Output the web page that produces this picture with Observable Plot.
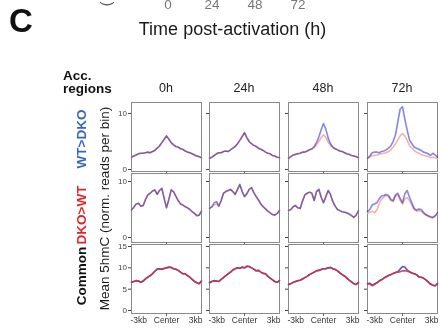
<!DOCTYPE html>
<html><head><meta charset="utf-8">
<script src="https://cdn.jsdelivr.net/npm/d3@7"></script>
<script src="https://cdn.jsdelivr.net/npm/@observablehq/plot@0.6"></script>
<style>
body{margin:0;background:#fff;}
#wrap{position:relative;width:440px;height:334px;overflow:hidden;font-family:"Liberation Sans",Arial,sans-serif;background:#fff;}
#wrap svg{position:absolute;overflow:visible;}
</style></head><body><div id="wrap"></div>
<script>
// ---- data ----
const bins = [-3.0,-2.8,-2.6,-2.4,-2.2,-2.0,-1.8,-1.6,-1.4,-1.2,-1.0,-0.8,-0.6,-0.4,-0.2,0.0,0.2,0.4,0.6,0.8,1.0,1.2,1.4,1.6,1.8,2.0,2.2,2.4,2.6,2.8,3.0];
const times = ["0h","24h","48h","72h"];
const regions = ["WT>DKO","DKO>WT","Common"];
const yTicksByRegion = [[0,10],[0,10],[0,5,10,15]];
const xTickValues = [-3,0,3];
const xTickLabels = ["-3kb","Center","3kb"];
const topTickLabels = ["0","24","48","72"];

// WT>DKO accessible regions
const r1_0h_WT  = [2.2,2.4,2.6,2.8,2.9,2.9,3.0,3.1,3.0,3.2,3.4,3.8,4.2,4.8,5.4,6.0,5.4,4.8,4.4,4.1,4.0,3.7,3.6,3.3,3.1,3.0,2.8,2.6,2.4,2.3,2.1];
const r1_0h_DKO = [2.2,2.4,2.6,2.8,2.9,2.9,3.0,3.1,3.0,3.2,3.4,3.8,4.2,4.8,5.4,6.0,5.4,4.8,4.4,4.1,4.0,3.7,3.6,3.3,3.1,3.0,2.8,2.6,2.4,2.3,2.1];
const r1_24h_WT  = [2.0,2.2,2.5,2.8,3.0,3.0,3.2,3.3,3.2,3.5,3.8,4.1,4.6,5.2,5.9,6.6,5.7,5.0,4.6,4.3,4.1,3.8,3.6,3.4,3.1,2.9,2.8,2.5,2.4,2.2,2.1];
const r1_24h_DKO = [2.0,2.2,2.5,2.8,3.0,3.0,3.2,3.3,3.2,3.5,3.8,4.1,4.6,5.2,5.8,6.5,5.7,5.0,4.6,4.3,4.1,3.8,3.6,3.4,3.1,2.9,2.8,2.5,2.4,2.2,2.1];
const r1_48h_WT  = [2.0,2.3,2.6,2.7,2.8,2.9,3.1,3.1,3.3,3.5,3.7,4.1,4.8,5.8,7.1,8.2,7.2,5.6,4.6,4.0,3.7,3.5,3.3,3.2,3.0,2.8,2.7,2.5,2.4,2.3,2.1];
const r1_48h_DKO = [2.0,2.3,2.6,2.7,2.8,2.9,3.1,3.1,3.3,3.5,3.6,3.9,4.4,5.0,5.7,6.2,5.7,4.9,4.3,3.9,3.7,3.5,3.3,3.2,3.0,2.8,2.7,2.5,2.4,2.3,2.1];
const r1_72h_WT  = [2.0,2.4,3.0,3.1,3.1,3.0,3.2,3.3,3.5,3.8,4.2,5.0,6.2,8.5,10.8,11.2,9.0,7.0,5.3,4.6,4.0,3.8,3.6,3.4,3.1,3.0,2.8,2.5,2.9,2.6,2.2];
const r1_72h_DKO = [2.0,2.2,2.5,2.5,2.6,2.7,2.8,2.9,3.0,3.2,3.5,4.0,4.6,5.3,6.0,6.4,6.0,5.2,4.3,3.8,3.4,3.1,2.9,2.7,2.5,2.4,2.3,2.1,2.2,2.1,1.9];

// DKO>WT accessible regions
const r2_0h_WT  = [4.9,5.4,6.0,6.1,5.6,5.7,6.8,7.6,7.9,8.3,8.5,7.7,8.4,8.8,7.0,5.3,6.8,8.5,8.2,7.4,6.6,6.0,5.8,5.5,5.3,5.0,4.6,4.3,3.9,4.0,4.7];
const r2_0h_DKO = [4.9,5.4,6.0,6.1,5.6,5.7,6.8,7.6,7.9,8.3,8.5,7.7,8.4,8.8,7.0,5.3,6.8,8.5,8.2,7.4,6.6,6.0,5.8,5.5,5.3,5.0,4.6,4.3,3.9,4.0,4.7];
const r2_24h_WT  = [5.2,5.5,6.2,6.4,5.6,6.6,7.9,8.2,8.4,8.6,8.2,7.7,8.6,9.5,8.2,7.3,7.8,8.6,8.9,8.0,7.3,6.7,6.0,5.5,5.1,4.7,4.4,4.1,4.0,4.3,4.8];
const r2_24h_DKO = [5.2,5.4,5.8,6.0,5.6,6.6,7.9,8.2,8.4,8.6,8.2,7.7,8.6,9.4,8.2,7.3,7.8,8.6,8.9,8.0,7.3,6.7,6.0,5.5,5.1,4.7,4.4,4.1,4.0,4.3,4.8];
const r2_48h_WT  = [4.8,5.0,5.5,5.7,5.3,5.2,6.5,7.6,7.9,8.1,7.9,6.6,8.2,8.6,7.2,6.2,7.3,8.4,7.7,6.4,5.6,5.0,4.8,4.6,4.5,4.4,4.2,3.9,3.6,4.0,4.8];
const r2_48h_DKO = [4.8,5.0,5.5,5.7,5.3,5.2,6.5,7.6,7.9,8.1,7.9,6.6,8.2,8.6,7.2,6.2,7.3,8.4,7.7,6.4,5.6,5.0,4.8,4.6,4.5,4.4,4.2,3.9,3.6,4.0,4.8];
const r2_72h_WT  = [4.6,5.0,5.8,6.0,6.2,6.9,7.4,7.5,7.7,7.5,6.8,6.6,7.6,7.9,7.0,6.2,7.8,8.4,7.2,6.2,5.2,4.9,5.1,5.0,4.5,4.1,3.9,3.7,3.6,3.9,4.4];
const r2_72h_DKO = [4.4,4.5,4.7,4.4,4.9,6.0,6.8,7.2,7.5,7.3,6.6,6.4,7.4,7.6,6.6,6.0,6.9,7.1,6.6,5.8,5.0,4.7,4.8,4.7,4.3,4.0,3.8,3.6,3.5,3.8,4.2];

// Common accessible regions
const r3_0h_WT  = [6.6,6.8,7.0,6.9,6.6,6.9,7.4,7.8,8.2,8.6,9.2,9.7,9.8,9.7,9.9,10.0,10.2,10.1,9.8,9.7,9.4,9.0,8.6,8.6,8.2,7.8,7.3,6.8,6.5,6.3,6.9];
const r3_0h_DKO = [6.6,6.8,7.0,6.9,6.6,6.9,7.4,7.8,8.2,8.6,9.2,9.7,9.8,9.6,9.8,10.0,10.1,10.1,9.8,9.7,9.4,9.0,8.6,8.6,8.2,7.8,7.3,6.8,6.5,6.3,6.9];
const r3_24h_WT  = [6.5,6.8,7.0,6.9,6.8,7.3,7.7,8.2,8.6,9.0,9.5,9.8,10.0,9.9,10.2,10.0,10.4,10.3,10.0,9.7,9.3,9.4,9.0,8.7,8.6,8.0,7.6,7.2,6.8,6.6,7.0];
const r3_24h_DKO = [6.5,6.8,7.0,6.9,6.8,7.3,7.7,8.2,8.6,9.0,9.5,9.8,10.0,9.9,10.1,10.0,10.3,10.3,10.0,9.7,9.3,9.4,9.0,8.7,8.6,8.0,7.6,7.2,6.8,6.6,7.0];
const r3_48h_WT  = [6.1,6.3,6.6,6.8,7.0,7.1,7.4,7.7,8.0,8.4,8.7,9.0,9.3,9.4,9.6,9.8,9.8,10.0,10.1,9.8,9.6,9.3,8.8,8.4,8.1,7.6,7.1,6.7,6.3,6.1,6.6];
const r3_48h_DKO = [6.1,6.3,6.6,6.8,7.0,7.1,7.4,7.7,8.0,8.4,8.7,9.0,9.3,9.4,9.6,9.8,9.8,10.0,10.1,9.8,9.6,9.3,8.8,8.4,8.1,7.6,7.1,6.7,6.3,6.1,6.6];
const r3_72h_WT  = [6.3,6.4,6.0,6.2,6.5,6.9,7.2,7.6,7.9,8.2,8.4,8.7,8.9,9.1,9.7,10.3,10.2,9.5,9.1,8.8,8.6,8.4,7.9,7.8,7.6,7.2,6.7,6.2,5.9,5.8,6.3];
const r3_72h_DKO = [6.2,6.2,5.8,6.1,6.5,6.9,7.2,7.6,7.9,8.2,8.4,8.7,8.9,9.0,9.1,9.3,9.3,9.2,9.0,8.8,8.6,8.4,7.9,7.8,7.6,7.2,6.7,6.2,5.9,5.8,6.3];

const profiles = [
  [[r1_0h_WT,r1_0h_DKO],[r1_24h_WT,r1_24h_DKO],[r1_48h_WT,r1_48h_DKO],[r1_72h_WT,r1_72h_DKO]],
  [[r2_0h_WT,r2_0h_DKO],[r2_24h_WT,r2_24h_DKO],[r2_48h_WT,r2_48h_DKO],[r2_72h_WT,r2_72h_DKO]],
  [[r3_0h_WT,r3_0h_DKO],[r3_24h_WT,r3_24h_DKO],[r3_48h_WT,r3_48h_DKO],[r3_72h_WT,r3_72h_DKO]]
];

// ---- layout / style ----
const yDomains = [[-0.36,11.96],[-0.89,11.43],[-0.70,15.47]];
const boxLeft = [131,209,288,367], boxTop = [102,173,244], boxW = 70, boxH = 69;
const ml = 24, mr = 2, mt = 2;
const font = "Liberation Sans, Arial, sans-serif";
const lineColors = [
  {wt:"#8686ec", dko:"#f6b2a8"},
  {wt:"#8686ec", dko:"#f6b2a8"},
  {wt:"#5858cc", dko:"#d02c40"}
];
const wrap = document.getElementById("wrap");

for (let r = 0; r < 3; r++) {
  for (let c = 0; c < 4; c++) {
    const mb = r === 2 ? 16 : 5;
    const [wtV, dkoV] = profiles[r][c];
    const wt = bins.map((x,i)=>({x, y: wtV[i]}));
    const dko = bins.map((x,i)=>({x, y: dkoV[i]}));
    const col = lineColors[r];
    const marks = [
      Plot.frame({stroke:"#8a8a8a", strokeWidth:1}),
      Plot.axisY({ticks: yTicksByRegion[r], tickSize: 3, tickPadding: 1.5, fontSize: 8, color:"#444",
                  tickFormat: c === 0 ? (d => String(d)) : (() => ""), label: null}),
      Plot.axisX({ticks: [0], tickSize: 3, tickFormat: () => "", label: null, color:"#666"})
    ];
    if (r === 2) {
      marks.push(Plot.text([{x: xTickValues[0], t: xTickLabels[0]}], {x:"x", text:"t", frameAnchor:"bottom", dy: 9, textAnchor:"start", dx:-1, fontSize: 8.5, fill:"#333"}));
      marks.push(Plot.text([{x: xTickValues[1], t: xTickLabels[1]}], {x:"x", text:"t", frameAnchor:"bottom", dy: 9, textAnchor:"middle", fontSize: 8.5, fill:"#333"}));
      marks.push(Plot.text([{x: xTickValues[2], t: xTickLabels[2]}], {x:"x", text:"t", frameAnchor:"bottom", dy: 9, textAnchor:"end", dx: 1, fontSize: 8.5, fill:"#333"}));
      marks.push(Plot.line(wt, {x:"x", y:"y", stroke: col.wt, strokeWidth: 1.6}));
      marks.push(Plot.line(dko, {x:"x", y:"y", stroke: col.dko, strokeWidth: 1.6, strokeOpacity: 0.85}));
    } else {
      marks.push(Plot.line(dko, {x:"x", y:"y", stroke: col.dko, strokeWidth: 1.6}));
      marks.push(Plot.line(wt, {x:"x", y:"y", stroke: col.wt, strokeWidth: 1.6, mixBlendMode:"multiply"}));
    }
    const svg = Plot.plot({
      width: boxW + ml + mr, height: boxH + mt + mb,
      marginLeft: ml, marginRight: mr, marginTop: mt, marginBottom: mb,
      x: {domain: [-3, 3]},
      y: {domain: yDomains[r]},
      style: {fontFamily: font, background: "transparent", overflow: "visible"},
      marks
    });
    svg.style.left = (boxLeft[c] - ml) + "px";
    svg.style.top = (boxTop[r] - mt) + "px";
    wrap.appendChild(svg);
  }
}

// ---- text annotations ----
const ov = d3.select(wrap).append("svg").attr("width", 440).attr("height", 334)
  .style("left","0px").style("top","0px").style("font-family", font);

// cut-off remnants of the panel above
const topX = [168, 212, 255, 298];
topTickLabels.forEach((t,i) => ov.append("text").attr("x", topX[i]).attr("y", 8.5)
  .attr("text-anchor","middle").attr("font-size", 13.5).attr("fill","#777").text(t));
ov.append("text").attr("transform","translate(106,4) rotate(-90)").attr("text-anchor","middle")
  .attr("dominant-baseline","central").attr("font-size", 14).attr("fill","#555").text("(");

ov.append("text").attr("x", 9).attr("y", 32).attr("font-size", 33).attr("font-weight","bold").attr("fill","#111").text("C");
ov.append("text").attr("x", 232.5).attr("y", 35).attr("text-anchor","middle").attr("font-size", 18).attr("fill","#1a1a1a").text("Time post-activation (h)");

ov.append("text").attr("x", 63).attr("y", 79.5).attr("font-size", 13.5).attr("font-weight","bold").attr("fill","#111").text("Acc.");
ov.append("text").attr("x", 63).attr("y", 93).attr("font-size", 13.5).attr("font-weight","bold").attr("fill","#111").text("regions");

times.forEach((t,i) => ov.append("text").attr("x", boxLeft[i] + boxW/2).attr("y", 92)
  .attr("text-anchor","middle").attr("font-size", 12.5).attr("fill","#222").text(t));

const regionColors = ["#3a66b8","#e0262c","#111"];
const regionY = [139, 215, 276];
regions.forEach((t,i) => ov.append("text").attr("transform", `translate(81,${regionY[i]}) rotate(-90)`)
  .attr("text-anchor","middle").attr("dominant-baseline","central")
  .attr("font-size", 13.5).attr("font-weight","bold").attr("fill", regionColors[i]).text(t));

ov.append("text").attr("transform","translate(104.5,208.5) rotate(-90)").attr("text-anchor","middle")
  .attr("dominant-baseline","central").attr("font-size", 13.5).attr("fill","#1a1a1a")
  .text("Mean 5hmC (norm. reads per bin)");
</script></body></html>
